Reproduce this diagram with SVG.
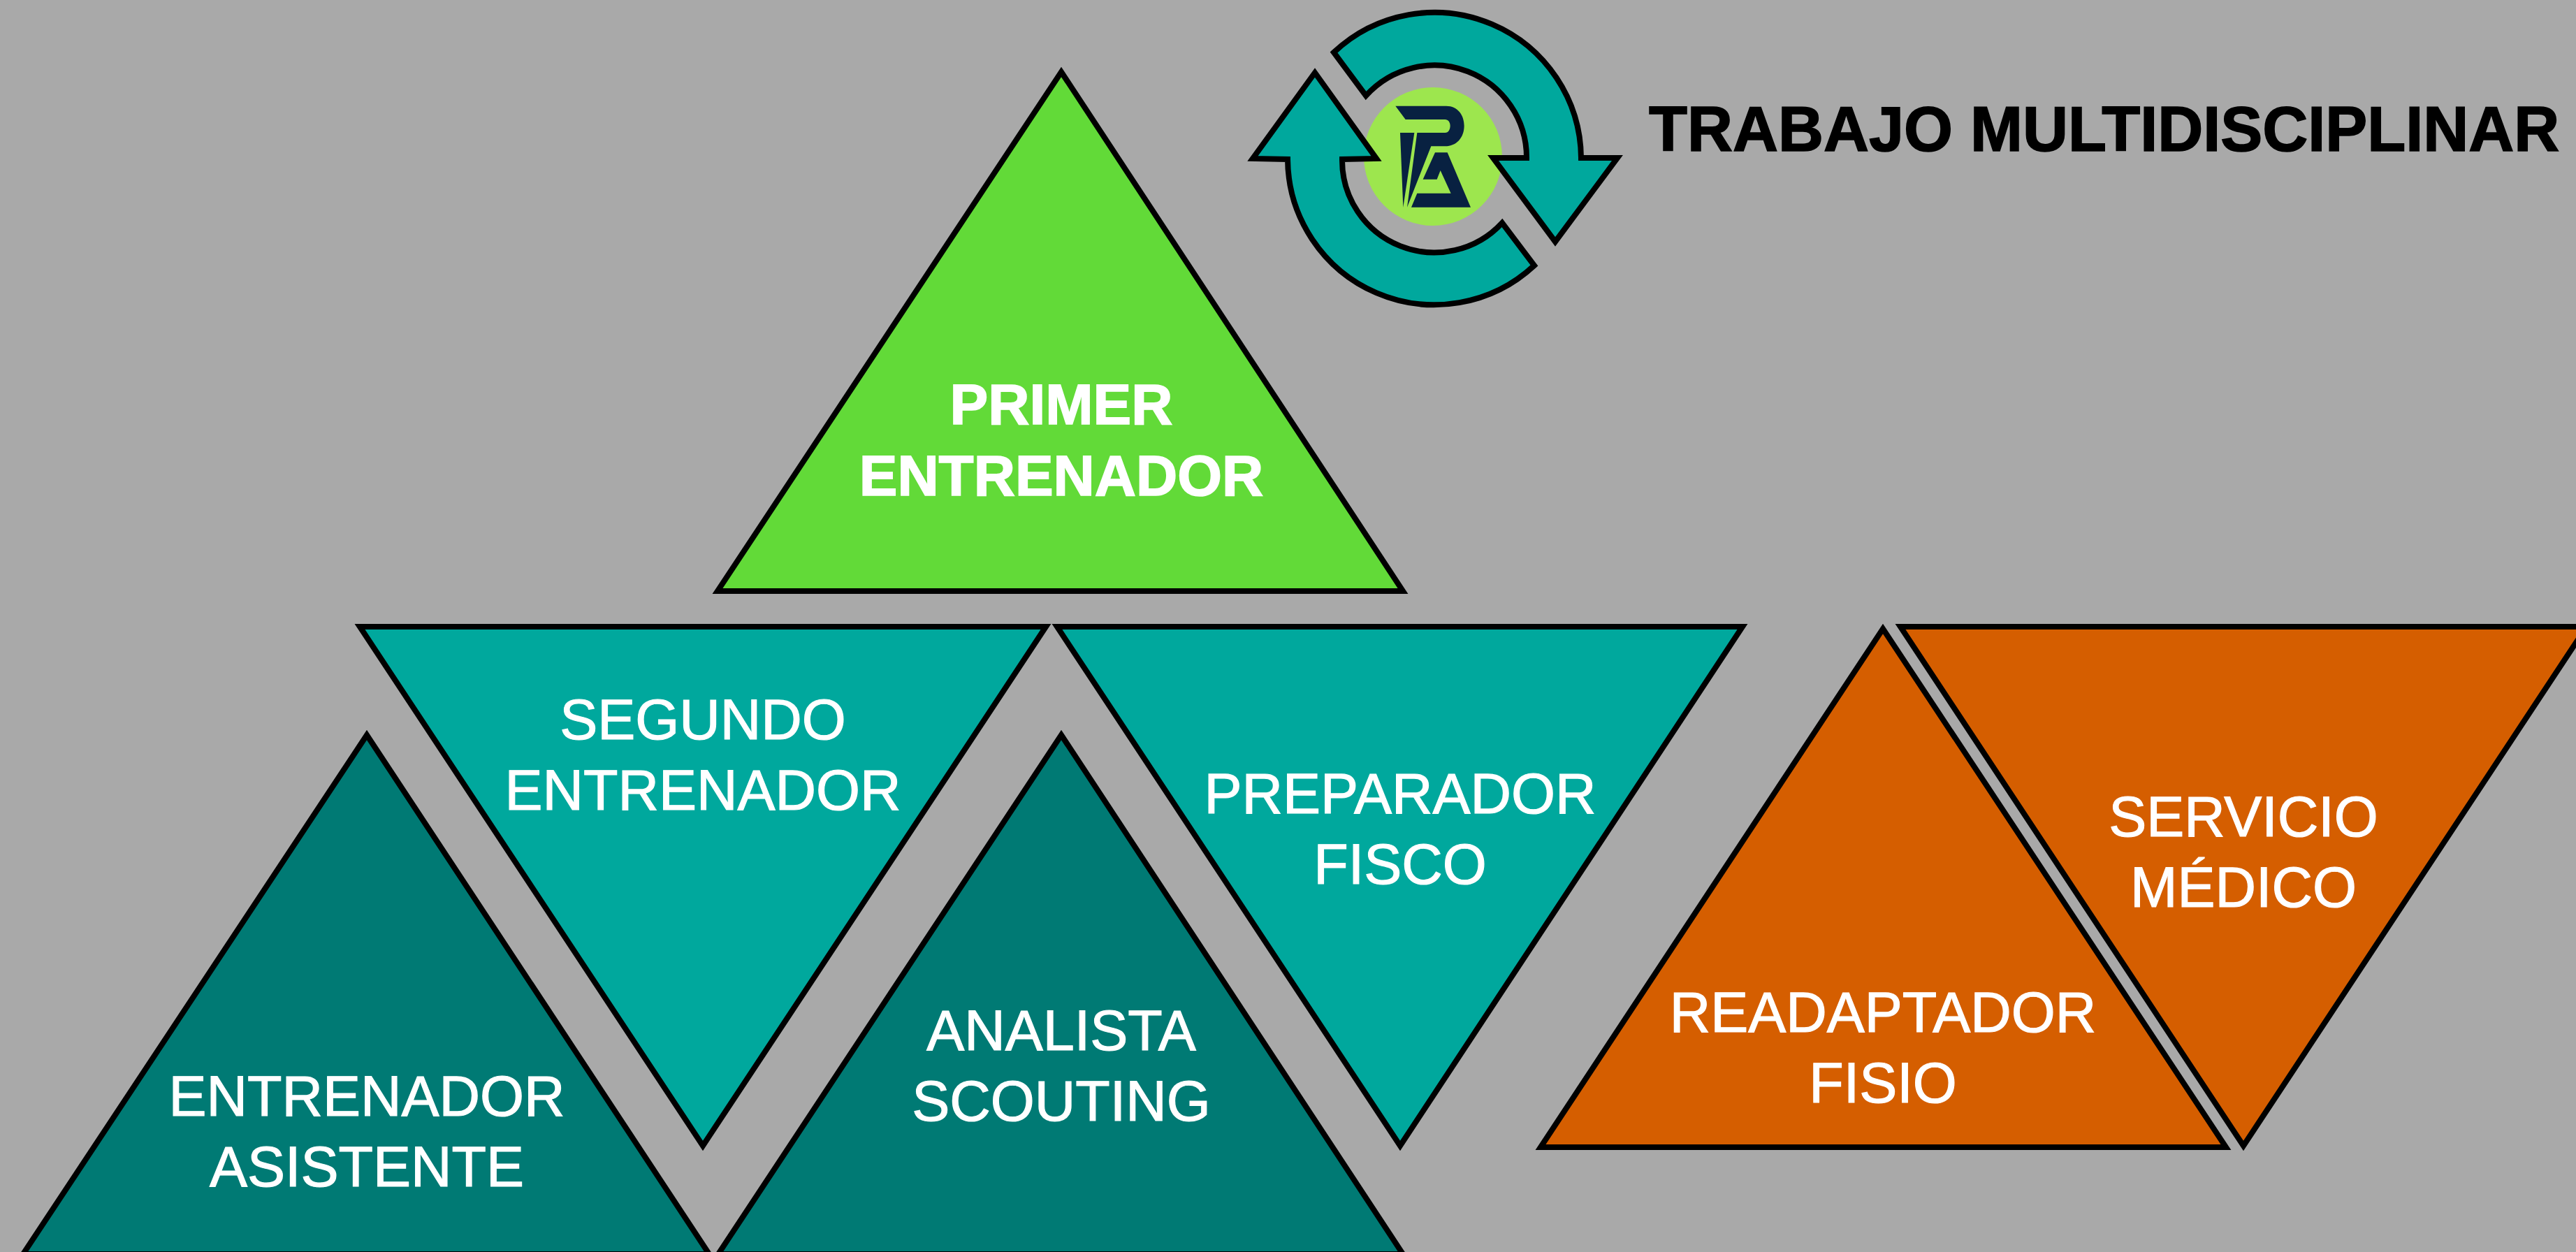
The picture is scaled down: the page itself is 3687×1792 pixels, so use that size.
<svg xmlns="http://www.w3.org/2000/svg" width="3687" height="1792" viewBox="0 0 3687 1792">
<style>
.t{stroke:#000;stroke-width:8;stroke-linejoin:miter;stroke-miterlimit:10}
.green{fill:#62da38}.teal{fill:#00a89d}.dark{fill:#007a74}.orange{fill:#d55e00}
.l{font-family:"Liberation Sans",Arial,sans-serif;font-size:81px;fill:#fff;stroke:#fff;stroke-width:1.2;text-anchor:middle}
.b{font-weight:700;font-size:82px;stroke-width:1.6}
.navy{fill:#082141}
</style>
<rect width="3687" height="1792" fill="#a9a9a9"/>
<g id="primer-entrenador"><polygon class="t green" points="1519,103 2008,846 1027,846"/><text class="l b" x="1519" y="607">PRIMER</text><text class="l b" x="1519" y="709">ENTRENADOR</text></g>
<g id="segundo-entrenador"><polygon class="t teal" points="515,897 1497,897 1006,1640"/><text class="l" x="1006" y="1058">SEGUNDO</text><text class="l" x="1006" y="1159">ENTRENADOR</text></g>
<g id="preparador-fisico"><polygon class="t teal" points="1513,897 2494,897 2004,1640"/><text class="l" x="2004" y="1164">PREPARADOR</text><text class="l" x="2004" y="1265">FISCO</text></g>
<g id="entrenador-asistente"><polygon class="t dark" points="525,1052 1015,1795 33,1795"/><text class="l" x="525" y="1597">ENTRENADOR</text><text class="l" x="525" y="1698">ASISTENTE</text></g>
<g id="analista-scouting"><polygon class="t dark" points="1519,1052 2008,1795 1028,1795"/><text class="l" x="1519" y="1503">ANALISTA</text><text class="l" x="1519" y="1604">SCOUTING</text></g>
<g id="readaptador-fisio"><polygon class="t orange" points="2695,900 3186,1642 2205,1642"/><text class="l" x="2695" y="1477">READAPTADOR</text><text class="l" x="2695" y="1578">FISIO</text></g>
<g id="servicio-medico"><polygon class="t orange" points="2720,897 3702,897 3211,1640"/><text class="l" x="3211" y="1197">SERVICIO</text><text class="l" x="3211" y="1298">MÉDICO</text></g>
<g id="logo">
<circle cx="2051" cy="224" r="99" fill="#9de64e"/>
<g transform="translate(1900 100) scale(.3333)" class="navy">
<path d="M292,155 L510,155 C560,155 587,195 587,240 C587,290 555,328 505,328 L445,328 L342,590 L385,270 L505,270 C520,270 527,255 527,240 C527,225 518,213 505,213 L335,213 Z"/>
<path d="M312,270 L373,270 L325,590 Z"/>
<path d="M462,355 L515,355 L615,590 L360,590 L385,530 L530,530 L485,432 L470,470 L410,470 Z"/>
</g>
</g>
<g id="cycle-arrows">
<path class="t teal" d="M1909,75 A210,210 0 0 1 2263,226 L2315,226 L2226,346 L2137,226 L2185,226 A132,132 0 0 0 1955,137 Z"/>
<path class="t teal" d="M2196,380 A210,210 0 0 1 1843,228 L1793,227 L1882,104 L1970,227 L1921,228 A132,132 0 0 0 2150,319 Z"/>
</g>
<text id="title" x="2360" y="216" font-family="'Liberation Sans',Arial,sans-serif" font-weight="700" font-size="90" fill="#000" stroke="#000" stroke-width="1.6">TRABAJO MULTIDISCIPLINAR</text>
</svg>
